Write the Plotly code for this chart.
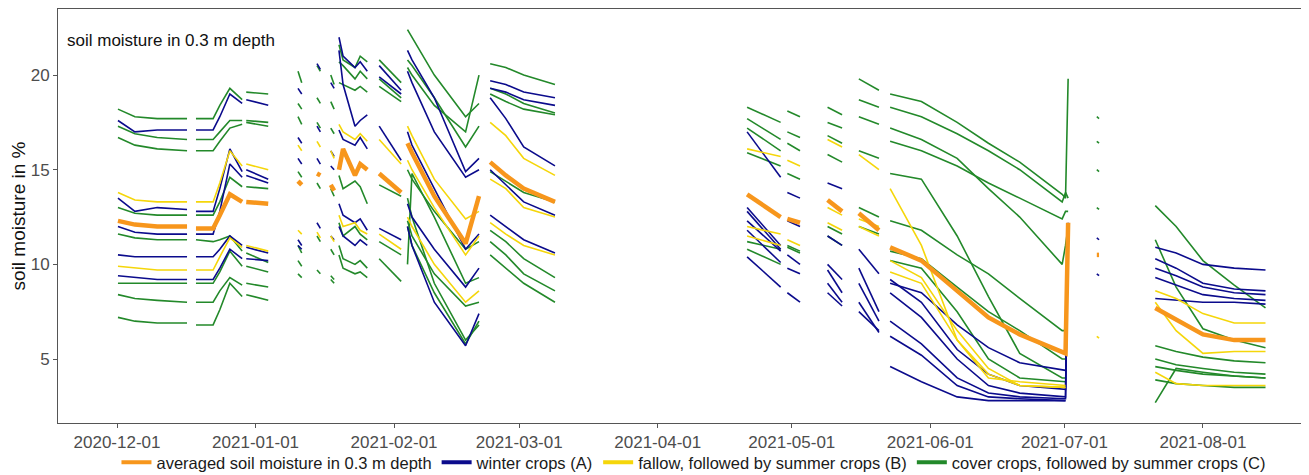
import plotly.graph_objects as go

# ---------------- time segments (logger periods) ----------------
S1 = ["2020-12-01 05:00", "2020-12-05", "2020-12-10", "2020-12-16 16:00"]
S2 = ["2020-12-18 16:00", "2020-12-22 12:00", "2020-12-24", "2020-12-26 06:00", "2020-12-29"]
S3 = ["2020-12-29 22:00", "2021-01-03 20:00"]
S4 = ["2021-01-10 12:00", "2021-01-11 08:00"]
S5 = ["2021-01-14 18:00", "2021-01-15 12:00"]
S6 = ["2021-01-17 20:00", "2021-01-18 14:00"]
S7 = ["2021-01-19 16:00", "2021-01-20 14:00", "2021-01-23 06:00", "2021-01-24 10:00", "2021-01-26"]
S8 = ["2021-01-28 16:00", "2021-02-02 14:00"]
S9 = ["2021-02-04", "2021-02-05", "2021-02-10", "2021-02-17", "2021-02-20"]
S10 = ["2021-02-22 12:00", "2021-02-26", "2021-03-02", "2021-03-09"]
S11 = ["2021-04-21", "2021-04-28 12:00"]
S12 = ["2021-04-30", "2021-05-02 20:00"]
S13 = ["2021-05-09", "2021-05-12 06:00"]
S14 = ["2021-05-16", "2021-05-20 12:00"]
S15 = ["2021-05-23", "2021-05-30", "2021-06-07", "2021-06-14", "2021-06-21",
       "2021-06-30 12:00", "2021-07-01 06:00", "2021-07-01 20:00"]
S16 = ["2021-07-08 06:00", "2021-07-08 18:00"]
S17 = ["2021-07-21 08:00", "2021-07-26", "2021-08-01", "2021-08-08", "2021-08-15"]
segments = [S1, S2, S3, S4, S5, S6, S7, S8, S9, S10, S11, S12, S13, S14, S15, S16, S17]

# ---------------- cover crops (C) sensors, % ----------------
G1 = [[18.2, 17.8, 17.7, 17.7], [17.7, 17.7, 18.4, 19.3, 18.7], [19.1, 19.0], [20.2, 19.6],
      [20.5, 20.2], [20.0, 19.5], [21.6, 20.8, 20.4, 21.0, 20.7], [20.8, 19.6],
      [22.4, 22.0, 20.0, 17.8, 18.5], [20.6, 20.4, 20.0, 19.5], [18.3, 17.5], [18.1, 17.8],
      [18.3, 17.9], [19.8, 19.2], [19.0, 18.6, 17.5, 16.4, 15.4, 13.7, 13.5, 19.8],
      [17.8, 17.7], [13.1, 12.0, 10.2, 8.9, 7.7]]
G2 = [[17.3, 16.9, 16.7, 16.6], [16.6, 16.6, 17.0, 17.6, 17.6], [17.6, 17.5], [18.5, 18.2],
      [18.8, 18.5], [18.6, 18.2], [20.7, 20.5, 19.8, 20.2, 19.8], [19.8, 18.8],
      [20.8, 20.5, 18.8, 16.2, 17.3], [19.3, 19.0, 18.5, 18.0], [17.7, 16.6], [17.0, 16.7],
      [17.5, 17.2], [18.7, 18.3], [18.3, 17.8, 16.9, 16.0, 15.0, 13.3, 13.8, 13.5],
      [16.5, 16.4], [11.3, 8.8, 6.6, 6.0, 5.6]]
G3 = [[16.7, 16.3, 16.1, 16.0], [16.0, 16.0, 16.5, 17.2, 17.4], [17.5, 17.3], [17.8, 17.4],
      [17.5, 17.2], [17.2, 16.9], [19.6, 19.5, 19.2, 19.4, 19.1], [19.4, 18.6],
      [20.4, 20.0, 18.4, 17.0, 20.0], [19.0, 18.6, 18.2, 17.9], [17.2, 16.0], [16.4, 16.0],
      [16.8, 16.4], [17.8, 17.4], [17.2, 16.6, 15.6, 14.0, 12.5, 10.0, 11.0, 12.0],
      [15.0, 14.9], [5.7, 5.4, 5.1, 4.9, 4.8]]
G4 = [[13.0, 12.7, 12.6, 12.6], [12.6, 12.6, 13.3, 14.6, 14.1], [14.1, 14.0], [14.9, 14.6],
      [14.3, 14.0], [14.0, 13.6], [14.7, 14.0, 14.4, 14.1, 13.2], [14.2, 13.6],
      [15.0, 14.5, 12.8, 10.8, 11.2], [14.9, 14.4, 13.8, 13.3], [15.9, 15.2], [14.8, 14.5],
      [15.8, 15.4], [16.0, 15.6], [16.5, 16.0, 15.2, 14.3, 13.5, 12.4, 12.8, 12.8],
      [13.0, 12.9], [4.6, 4.4, 4.2, 4.1, 4.0]]
G5 = [[11.6, 11.4, 11.3, 11.3], [11.3, 11.2, 11.3, 11.5, 10.7], [10.6, 10.1], [11.0, 10.6],
      [11.5, 11.2], [10.8, 10.5], [12.2, 11.5, 12.0, 11.6, 11.3], [11.2, 10.5],
      [12.3, 11.5, 9.5, 7.8, 8.0], [11.8, 11.2, 10.3, 9.3], [11.2, 10.8], [11.0, 10.7],
      [12.0, 11.6], [13.0, 12.5], [14.8, 14.5, 11.5, 8.3, 5.3, 4.0, 4.0, None],
      None, [3.9, 3.7, 3.6, 3.5, 3.5]]
G6 = [[9.0, 9.0, 9.0, 9.0], [9.0, 9.0, 9.6, 10.7, 9.9], [9.9, 9.6], [10.2, 9.9],
      [9.7, 9.5], [9.4, 9.2], [11.0, 10.3, 10.0, 10.2, 9.8], [10.3, 9.1],
      [12.0, 11.0, 8.5, 5.8, 7.0], [11.2, 10.5, 9.5, 8.6], [10.8, 10.0], [10.9, 10.6],
      [11.5, 11.0], [12.0, 11.6], [12.3, 11.8, 10.5, 9.5, 8.2, 6.5, 6.5, None],
      None, [5.0, 4.7, 4.5, 4.3, 4.2]]
G7 = [[8.4, 8.2, 8.1, 8.0], [8.0, 8.0, 8.6, 9.3, 8.9], [9.0, 8.8], [9.5, 9.3],
      None, [9.2, 9.0], [10.5, 9.8, 9.5, 9.6, 9.3], None,
      [13.5, 12.5, 9.0, 6.0, 6.8], [10.5, 9.8, 9.0, 8.0], None, None,
      None, None, [10.7, 10.3, 8.8, 7.5, 6.5, 5.0, 5.0, None],
      None, [2.7, 4.5, 4.3, 4.1, 4.0]]
G8 = [[7.2, 7.0, 6.9, 6.9], [6.8, 6.8, 7.6, 9.0, 8.3], [8.4, 8.1], None,
      None, None, None, None,
      [10.0, 14.8, 12.5, 9.0, 9.3], None, None, None,
      None, None, [10.2, 9.8, 7.5, 5.0, 4.0, 3.8, 3.8, None],
      None, None]

# ---------------- fallow (B) sensors, % ----------------
Y1 = [[13.8, 13.4, 13.3, 13.3], [13.3, 13.3, 14.3, 16.0, 15.2], [15.3, 15.0], [16.3, 16.0],
      [16.5, 16.2], [16.0, 15.6], [17.4, 17.0, 16.6, 16.9, 16.5], [16.6, 15.3],
      [17.3, 16.8, 14.5, 12.4, 12.8], [17.5, 16.8, 15.6, 14.7], [16.1, 15.7], [15.5, 15.2],
      [16.6, 16.2], [15.8, 15.0], [14.0, 11.0, 6.0, 4.0, 3.8, 3.6, 3.6, None],
      None, [8.6, 8.2, 7.4, 6.9, 6.9]]
Y2 = [[9.9, 9.8, 9.7, 9.7], [9.7, 9.7, 10.4, 11.4, 10.9], [11.0, 10.7], [11.8, 11.6],
      [11.7, 11.4], [11.5, 11.2], [12.6, 12.0, 12.2, 11.8, 11.6], [11.6, 10.8],
      [12.5, 12.0, 10.0, 8.0, 8.6], [12.2, 11.6, 11.0, 10.5], [11.5, 11.0], [11.3, 11.0],
      [12.2, 11.8], [12.0, 11.5], [10.2, 9.3, 6.5, 4.5, 3.6, 3.5, 3.5, None],
      [6.2, 6.1], [8.0, 6.5, 5.3, 5.4, 5.4]]
Y3 = [None, None, None, None,
      None, None, None, None,
      [15.5, 15.0, 13.0, 10.5, 11.5], [14.5, 14.0, 13.0, 12.5], [12.0, 11.6], None,
      [13.0, 12.6], [12.4, 12.0], [9.6, 9.0, 6.0, 4.2, 3.6, 3.5, 3.5, None],
      None, [4.3, 3.7, 3.6, 3.6, 3.6]]

# ---------------- winter crops (A) sensors, % ----------------
B1 = [[17.6, 17.0, 17.1, 17.1], [17.1, 17.1, 17.8, 19.0, 18.5], [18.7, 18.4], [19.3, 19.0],
      [20.6, 20.3], [19.6, 19.3], [22.0, 21.0, 20.4, 20.7, 20.2], [20.5, 19.2],
      [21.3, 20.8, 18.8, 14.9, 15.6], [19.7, 19.5, 19.1, 18.8], [17.0, 14.6], [13.8, 13.5],
      [14.3, 14.0], [10.8, 9.5], [9.2, 8.0, 5.5, 4.2, 3.6, 3.4, 3.4, 11.0],
      [11.4, 11.3], [10.9, 10.6, 10.0, 9.8, 9.7]]
B2 = [[13.5, 12.8, 13.0, 12.9], [12.8, 12.8, 14.0, 16.1, 14.9], [15.0, 14.5], [16.7, 16.4],
      [17.3, 17.0], [16.0, 15.7], [17.1, 16.6, 16.3, 16.7, 16.1], [17.3, 15.5],
      [17.0, 16.3, 14.0, 10.8, 11.6], [18.8, 17.7, 16.2, 15.2], [13.0, 11.0], [12.3, 12.0],
      [11.5, 11.0], [9.8, 7.5], [8.5, 7.2, 5.0, 3.6, 3.2, 3.0, 3.0, 11.8],
      [9.5, 9.4], [10.3, 9.8, 9.0, 8.7, 8.6]]
B3 = [[12.0, 11.7, 11.6, 11.6], [11.6, 11.6, 12.8, 15.3, 14.6], [14.7, 14.3], [15.6, 15.3],
      [15.6, 15.3], [15.2, 15.0], [21.3, 19.5, 17.3, 17.6, 17.9], [19.9, 19.0],
      [20.2, 19.6, 17.0, 14.6, 15.0], [19.3, 19.1, 18.7, 18.4], [12.3, 10.7], [10.5, 10.0],
      [10.0, 9.2], [9.0, 7.0], [7.0, 5.8, 4.0, 3.2, 3.0, 2.9, 2.9, 12.2],
      None, [9.8, 9.4, 8.8, 8.5, 8.4]]
B4 = [[10.5, 10.4, 10.4, 10.4], [10.4, 10.4, 10.8, 11.5, 11.0], [10.9, 10.6], [11.3, 11.0],
      [12.2, 11.9], [11.5, 11.3], [13.2, 12.6, 12.2, 12.4, 11.8], [11.9, 11.3],
      [13.2, 12.5, 10.8, 8.8, 9.8], [12.6, 12.0, 11.3, 10.6], [11.8, 10.1], [9.8, 9.5],
      [9.0, 8.0], [8.0, 6.4], [6.2, 5.2, 3.6, 3.0, 2.9, 2.8, 2.8, None],
      None, [9.3, 8.9, 8.4, 8.2, 8.1]]
B5 = [[9.4, 9.3, 9.2, 9.2], [9.2, 9.2, 9.8, 10.8, 10.3], [10.3, 10.2], [11.0, 10.8],
      None, None, [12.0, 11.5, 11.0, 11.3, 11.0], None,
      [12.0, 11.0, 8.0, 5.7, 7.4], [15.0, 14.2, 13.3, 12.6], [10.4, 8.8], [8.5, 8.0],
      [9.7, 8.5], [7.5, 6.5], [4.6, 3.8, 3.0, 2.8, 2.8, 2.8, 2.8, None],
      None, [8.2, 8.1, 8.0, 8.0, 7.9]]
B6 = [None, None, None, None,
      None, None, None, None,
      None, None, [12.8, 10.8], None,
      [8.5, 7.8], None, [9.0, 8.5, 6.8, 5.6, 4.8, 4.4, 4.4, None],
      None, None]

# ---------------- averaged soil moisture, % ----------------
AVG = [[12.3, 12.1, 12.0, 12.0], [11.9, 11.9, 12.6, 13.7, 13.3], [13.3, 13.2], [14.4, 14.2],
       [14.8, 14.7], [14.2, 13.9], [15.0, 16.1, 14.7, 15.3, 15.0], [14.8, 13.8],
       [16.4, 15.9, 13.6, 11.1, 13.6], [15.4, 14.7, 14.0, 13.3], [13.7, 12.5], [12.4, 12.2],
       [13.4, 12.8], [12.7, 11.8], [10.9, 10.2, 8.6, 7.2, 6.3, 5.4, 5.3, 12.2],
       [10.5, 10.5], [7.7, 7.1, 6.3, 6.0, 6.0]]

tick_dates = ["2020-12-01", "2021-01-01", "2021-02-01", "2021-03-01", "2021-04-01",
              "2021-05-01", "2021-06-01", "2021-07-01", "2021-08-01"]
y_ticks = [5, 10, 15, 20]

labels = {
    "avg": "averaged soil moisture in 0.3 m depth",
    "A": "winter crops (A)",
    "B": "fallow, followed by summer crops (B)",
    "C": "cover crops, followed by summer crops (C)",
}
colors = {"avg": "#F7961C", "A": "#0B0B8C", "B": "#F5D60A", "C": "#23892A"}


def build(series):
    xs, ys = [], []
    for seg, vals in zip(segments, series):
        if vals is None:
            continue
        xs.extend(seg)
        ys.extend(vals)
        xs.append(None)
        ys.append(None)
    return xs, ys


fig = go.Figure()

# legend entries (thick keys)
for key in ["avg", "A", "B", "C"]:
    fig.add_trace(go.Scatter(x=[None], y=[None], mode="lines", name=labels[key],
                             line=dict(color=colors[key], width=4), showlegend=True,
                             legendgroup=key))

groups = [("C", [G1, G2, G3, G4, G5, G6, G7, G8]),
          ("A", [B1, B2, B3, B4, B5, B6]),
          ("B", [Y1, Y2, Y3])]
for key, sensors in groups:
    for s in sensors:
        x, y = build(s)
        fig.add_trace(go.Scatter(x=x, y=y, mode="lines", showlegend=False,
                                 legendgroup=key, hoverinfo="skip",
                                 line=dict(color=colors[key], width=1.6)))

x, y = build(AVG)
fig.add_trace(go.Scatter(x=x, y=y, mode="lines", showlegend=False, legendgroup="avg",
                         line=dict(color=colors["avg"], width=4.5)))

# page body has an 8px margin: figure is sized/offset so the plot panel lands where it should
fig.update_layout(
    width=1301, height=475,
    margin=dict(l=50, r=7, t=1, b=60),
    paper_bgcolor="white", plot_bgcolor="white",
    font=dict(family="Liberation Sans, Arial, sans-serif", color="#222222"),
    showlegend=True,
    legend=dict(orientation="h", x=0.047, xanchor="left", y=-57 / 414, yanchor="bottom",
                font=dict(size=16.5, color="#1a1a1a"), itemwidth=30,
                bgcolor="rgba(0,0,0,0)", tracegroupgap=0),
    annotations=[dict(text="soil moisture in 0.3 m depth", xref="paper", yref="paper",
                      x=0.006, y=0.925, xanchor="left", yanchor="middle", showarrow=False,
                      font=dict(size=17, color="#111111"))],
)
fig.update_xaxes(
    type="date", range=["2020-11-17 19:00", "2021-08-23 04:00"],
    tickvals=tick_dates, ticktext=tick_dates, automargin=False,
    showgrid=False, zeroline=False,
    showline=True, linecolor="#555555", linewidth=1, mirror=True,
    ticks="outside", ticklen=4, tickcolor="#555555",
    tickfont=dict(size=17, color="#4D4D4D"),
)
fig.update_yaxes(
    range=[1.62, 23.49], tickvals=y_ticks, automargin=False,
    showgrid=False, zeroline=False,
    showline=True, linecolor="#555555", linewidth=1, mirror=True,
    ticks="outside", ticklen=4, tickcolor="#555555",
    tickfont=dict(size=17, color="#4D4D4D"),
    title=dict(text="soil moisture in %", font=dict(size=19, color="#111111"), standoff=2),
)

fig.write_html("out.html")
